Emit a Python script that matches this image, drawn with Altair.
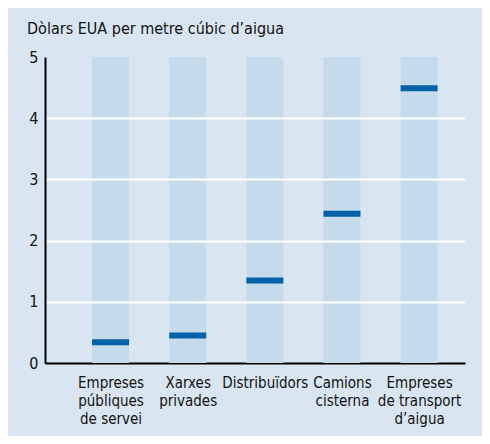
import altair as alt
import pandas as pd

categories = ["Empreses|públiques|de servei", "Xarxes|privades", "Distribuïdors", "Camions|cisterna", "Empreses|de transport|d’aigua"]
positions = [0, 1, 2, 3, 4]
values = [0.34, 0.45, 1.35, 2.44, 4.49]
y_top = [5, 5, 5, 5, 5]

df = pd.DataFrame({"idx": positions, "cat": categories, "value": values, "top": y_top})

FONT = "DejaVu Sans Condensed, Roboto, Arial"
BG = "#d9e6f1"
BAR_BG = "#c5dbec"
DARK = "#0062a9"

label_expr = "split([" + ",".join("'" + c + "'" for c in categories) + "][datum.value], '|')"

x = alt.X("idx:Q", scale=alt.Scale(domain=[-0.785, 4.53], nice=False, zero=False),
          axis=alt.Axis(values=positions, labelExpr=label_expr, title=None, ticks=False, grid=False,
                        domainColor="#000000", domainWidth=2, labelFont=FONT, labelFontSize=15,
                        labelColor="#111111", labelPadding=12, labelLineHeight=18, labelBaseline="top",
                        labelFlush=False, labelOverlap=False))
y_scale = alt.Scale(domain=[0, 5], nice=False)

bars = alt.Chart(df).mark_bar(width=37, color=BAR_BG).encode(
    x=x,
    y=alt.Y("top:Q", scale=y_scale,
            axis=alt.Axis(values=[0, 1, 2, 3, 4, 5], format="d", title=None, ticks=False, grid=True,
                          gridColor="white", gridWidth=2,
                          gridOpacity={"condition": {"test": "datum.value == 5 || datum.value == 0", "value": 0}, "value": 1},
                          domainColor="#000000", domainWidth=2, labelFont=FONT, labelFontSize=16,
                          labelColor="#111111", labelPadding=7, zindex=1)),
    y2=alt.Y2(datum=0),
)

ticks = alt.Chart(df).mark_tick(orient="horizontal", size=37, thickness=6, color=DARK, opacity=1).encode(
    x=alt.X("idx:Q"),
    y=alt.Y("value:Q"),
)

chart = alt.layer(bars, ticks).properties(
    width=420, height=306,
    autosize=alt.AutoSizeParams(type="none"),
    padding={"left": 37, "top": 49, "right": 17, "bottom": 73},
    background=BG,
    title=alt.Title("Dòlars EUA per metre cúbic d’aigua", anchor="start", frame="group", dx=-18, offset=12,
                    font=FONT, fontSize=16, fontWeight=500, color="#111111"),
).configure_view(stroke=None, fill=BG)

chart.save("out.html", embed_options={"renderer": "svg", "actions": False})
